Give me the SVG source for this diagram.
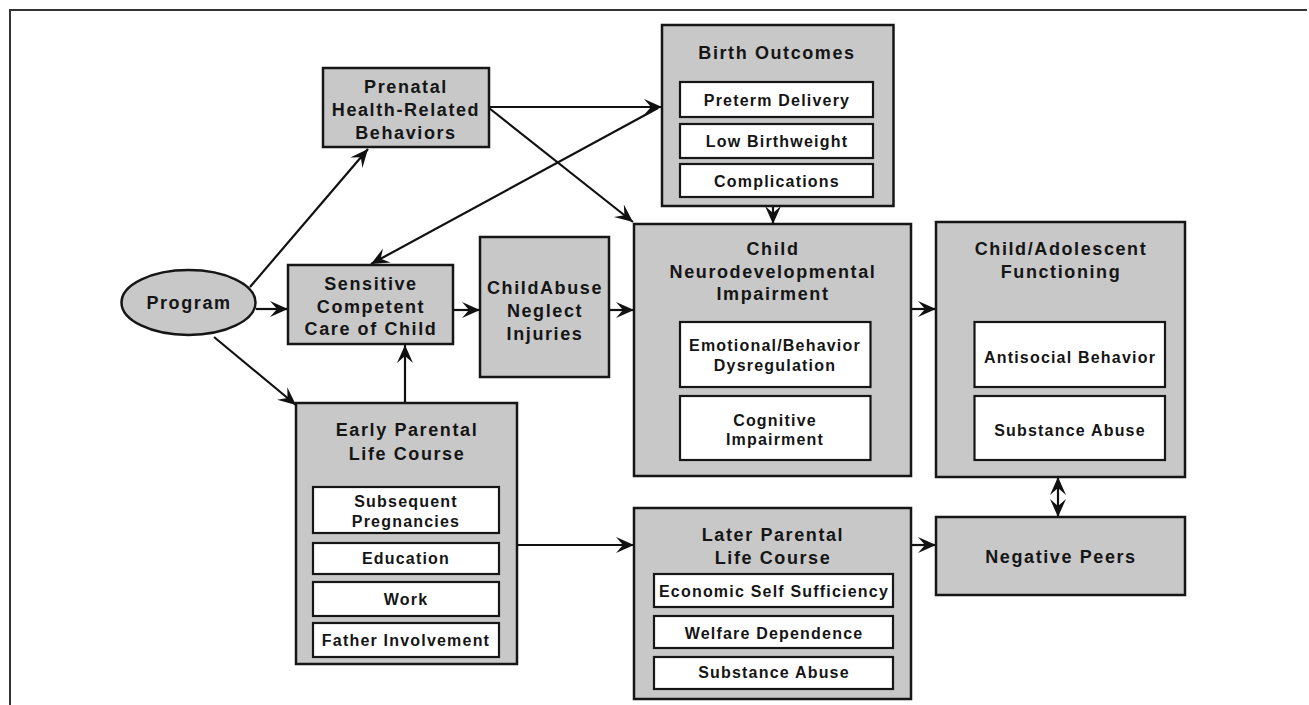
<svg xmlns="http://www.w3.org/2000/svg" width="1309" height="705" viewBox="0 0 1309 705">
<defs>
<style>
.bx{fill:#c8c8c8;stroke:#161616;stroke-width:2.5}
.in{fill:#fff;stroke:#161616;stroke-width:2.2}
.t{font-family:"Liberation Sans",Arial,sans-serif;font-weight:bold;font-size:18px;letter-spacing:1.6px;text-anchor:middle;fill:#151515}
.s{font-size:16px;letter-spacing:1.2px}
.c{fill:none;stroke:#111;stroke-width:2.2}
</style>
<marker id="ah" viewBox="-20 -10 21 20" refX="0" refY="0" markerWidth="21" markerHeight="20" orient="auto" markerUnits="userSpaceOnUse">
<path d="M0,0 L-18,-8 L-11,0 L-18,8 Z" fill="#111"/>
</marker>
<marker id="as" viewBox="-20 -10 21 20" refX="0" refY="0" markerWidth="21" markerHeight="20" orient="auto-start-reverse" markerUnits="userSpaceOnUse">
<path d="M0,0 L-18,-8 L-11,0 L-18,8 Z" fill="#111"/>
</marker>
</defs>
<rect width="1309" height="705" fill="#fff"/>
<g id="frame">
<path d="M10,705 L10,10 L1307,10" fill="none" stroke="#333" stroke-width="2"/>
</g>
<g id="connectors">
<path class="c" d="M250,287 L368,149" marker-end="url(#ah)"/>
<path class="c" d="M256,309 L288,309" marker-end="url(#ah)"/>
<path class="c" d="M214,337 L296,405" marker-end="url(#ah)"/>
<path class="c" d="M405,403 L405,345" marker-end="url(#ah)"/>
<path class="c" d="M453,310 L480,310" marker-end="url(#ah)"/>
<path class="c" d="M609,310 L634,310" marker-end="url(#ah)"/>
<path class="c" d="M489,107 L662,107" marker-end="url(#ah)"/>
<path class="c" d="M489,108 L633,222" marker-end="url(#ah)"/>
<path class="c" d="M658,108 L371,264" marker-end="url(#ah)"/>
<path class="c" d="M773,206 L773,224" marker-end="url(#ah)"/>
<path class="c" d="M911,309 L936,309" marker-end="url(#ah)"/>
<path class="c" d="M517,545 L634,545" marker-end="url(#ah)"/>
<path class="c" d="M911,545 L936,545" marker-end="url(#ah)"/>
<path class="c" d="M1058,477 L1058,517" marker-start="url(#as)" marker-end="url(#ah)"/>
</g>
<g id="program">
<ellipse cx="188.5" cy="302.5" rx="67" ry="32.5" class="bx"/>
<text class="t" x="189" y="309">Program</text>
</g>
<g id="prenatal">
<rect x="323" y="68" width="166" height="79" class="bx"/>
<text class="t" x="406" y="92.5">Prenatal</text>
<text class="t" x="406" y="115.5">Health-Related</text>
<text class="t" x="406" y="138.5">Behaviors</text>
</g>
<g id="birth-outcomes">
<rect x="662" y="25" width="231.5" height="181" class="bx"/>
<text class="t" x="777" y="58.5">Birth Outcomes</text>
<rect x="680" y="82" width="193" height="35" class="in"/>
<text class="t s" x="777" y="105.8">Preterm Delivery</text>
<rect x="680" y="124" width="193" height="34" class="in"/>
<text class="t s" x="777" y="146.8">Low Birthweight</text>
<rect x="680" y="164" width="193" height="33" class="in"/>
<text class="t s" x="777" y="186.8">Complications</text>
</g>
<g id="sensitive-care">
<rect x="288" y="265" width="165" height="79" class="bx"/>
<text class="t" x="371" y="289.5">Sensitive</text>
<text class="t" x="371" y="312.5">Competent</text>
<text class="t" x="371" y="334.5">Care of Child</text>
</g>
<g id="child-abuse">
<rect x="480" y="237" width="129" height="140" class="bx"/>
<text class="t" x="545" y="293.5">ChildAbuse</text>
<text class="t" x="545" y="316.5">Neglect</text>
<text class="t" x="545" y="339.5">Injuries</text>
</g>
<g id="neurodevelopmental">
<rect x="634" y="224" width="277" height="252" class="bx"/>
<text class="t" x="773" y="254.5">Child</text>
<text class="t" x="773" y="277.5">Neurodevelopmental</text>
<text class="t" x="773" y="300">Impairment</text>
<rect x="680" y="322" width="190.5" height="65" class="in"/>
<text class="t s" x="775" y="350.8">Emotional/Behavior</text>
<text class="t s" x="775" y="370.8">Dysregulation</text>
<rect x="680" y="396" width="190.5" height="64" class="in"/>
<text class="t s" x="775" y="425.8">Cognitive</text>
<text class="t s" x="775" y="444.8">Impairment</text>
</g>
<g id="child-adolescent">
<rect x="936" y="222" width="249" height="255" class="bx"/>
<text class="t" x="1061" y="254.5">Child/Adolescent</text>
<text class="t" x="1061" y="277.5">Functioning</text>
<rect x="974.5" y="322" width="190.5" height="65" class="in"/>
<text class="t s" x="1070" y="362.8">Antisocial Behavior</text>
<rect x="974.5" y="396" width="190.5" height="64" class="in"/>
<text class="t s" x="1070" y="435.8">Substance Abuse</text>
</g>
<g id="early-parental">
<rect x="296" y="403" width="221" height="261" class="bx"/>
<text class="t" x="407" y="435.5">Early Parental</text>
<text class="t" x="407" y="459.5">Life Course</text>
<rect x="313" y="487" width="186" height="46" class="in"/>
<text class="t s" x="406" y="506.8">Subsequent</text>
<text class="t s" x="406" y="526.8">Pregnancies</text>
<rect x="313" y="543" width="186" height="31" class="in"/>
<text class="t s" x="406" y="563.8">Education</text>
<rect x="313" y="582" width="186" height="34" class="in"/>
<text class="t s" x="406" y="604.8">Work</text>
<rect x="313" y="623" width="186" height="34" class="in"/>
<text class="t s" x="406" y="645.8">Father Involvement</text>
</g>
<g id="later-parental">
<rect x="634" y="508" width="277" height="191" class="bx"/>
<text class="t" x="773" y="540.5">Later Parental</text>
<text class="t" x="773" y="563.5">Life Course</text>
<rect x="654" y="574" width="239" height="33" class="in"/>
<text class="t s" x="774" y="596.8">Economic Self Sufficiency</text>
<rect x="654" y="616" width="239" height="32" class="in"/>
<text class="t s" x="774" y="638.8">Welfare Dependence</text>
<rect x="654" y="657" width="239" height="32" class="in"/>
<text class="t s" x="774" y="677.8">Substance Abuse</text>
</g>
<g id="negative-peers">
<rect x="936" y="517" width="249" height="78" class="bx"/>
<text class="t" x="1061" y="563">Negative Peers</text>
</g>
</svg>
